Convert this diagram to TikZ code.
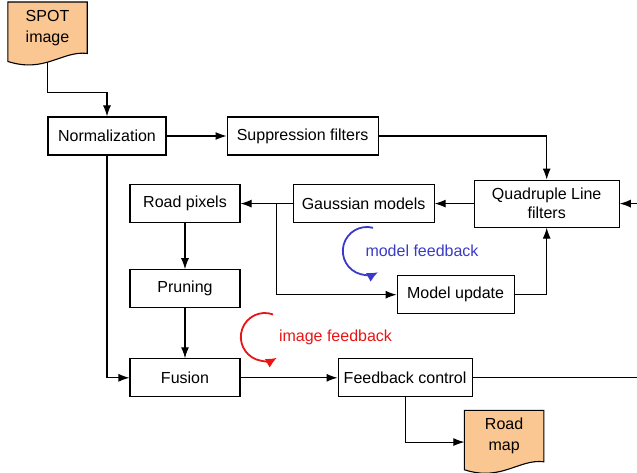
\documentclass[tikz,border=0pt]{standalone}
\usepackage{fontspec}
\setmainfont{Liberation Sans}
\usetikzlibrary{positioning,arrows.meta,backgrounds}

\definecolor{docorange}{RGB}{250,198,146}
\definecolor{fbblue}{RGB}{58,58,200}
\definecolor{fbred}{RGB}{235,20,20}

% wavy document outline behind a doc node
\newcommand{\docframe}[1]{%
	\begin{scope}[on background layer]
		\draw[docframe] (#1.north west) -- (#1.north east) -- (#1.south east)
			.. controls +(-25pt,3pt) and +(37pt,-12pt) .. ([yshift=-8pt]#1.south west) -- cycle;
	\end{scope}}

\begin{document}
\begin{tikzpicture}[font=\fontsize{16}{19}\selectfont,
						box/.style={draw,line width=1.1pt,minimum height=38pt,inner sep=0pt},
						doc/.style={minimum width=79pt,minimum height=51pt,inner sep=0pt,align=center,font=\fontsize{16}{21}\selectfont},
						docframe/.style={draw,line width=1.1pt,fill=docorange},
						flow/.style={line width=1.1pt,-{Latex[length=11pt,width=8pt]}},
						loopback/.style={line width=1.8pt,-{Latex[length=11pt,width=10pt]}}]
		\useasboundingbox (0,0) rectangle (637pt,-473pt);

		\node[box,minimum width=118pt]	(norm)	at (107pt,-136pt)	{Normalization};
		\node[box,minimum width=151pt,right=60pt of norm]	(supp)	{Suppression filters};
		\node[box,minimum width=145pt,minimum height=47pt,align=center,below right=24pt and 95pt of supp]	(quad)	{Quadruple Line\\filters};
		\node[box,minimum width=141pt,left=39pt of quad]	(gauss)	{Gaussian models};
		\node[box,minimum width=110pt,left=52pt of gauss]	(pix)	{Road pixels};
		\node[box,minimum width=110pt,below=46pt of pix]	(prun)	{Pruning};
		\node[box,minimum width=110pt,below=50pt of prun]	(fus)	{Fusion};
		\node[box,minimum width=134pt,right=97pt of fus]	(fbc)	{Feedback control};
		\node[box,minimum width=117pt,below=52pt of gauss,xshift=92pt]	(upd)	{Model update};

		\node[doc,above=63pt of norm,xshift=-59.5pt]	(spot)	{SPOT\\image};
		\node[doc,below=13pt of fbc,xshift=99pt]	(map)	{Road\\map};
		\docframe{spot}
		\docframe{map}

		\node[inner sep=0pt,text=fbblue]	(mfb)	at (422pt,-251pt)	{model feedback};
		\node[inner sep=0pt,text=fbred]	(ifb)	at (335.5pt,-337pt)	{image feedback};

		\coordinate (split)	at ([xshift=-16pt]gauss.west);
		\coordinate (back)	at ([xshift=180pt]fbc.east);

		\draw[flow] ([yshift=-9pt]spot.south) -- ++(0,-30pt) -| (norm.north);
		\draw[flow] (norm) -- (supp);
		\draw[flow] (supp.east) -| (quad.north);
		\draw[flow] (quad) -- (gauss);
		\draw[flow] (gauss) -- (pix);
		\draw[flow] (split) |- (upd.west);
		\draw[flow] (upd.east) -| (quad.south);
		\draw[flow] (pix) -- (prun);
		\draw[flow] (prun) -- (fus);
		\draw[flow] (norm.south) |- (fus.west);
		\draw[flow] (fus) -- (fbc);
		\draw[flow] (fbc.east) -- (back) |- (quad.east);
		\draw[flow] (fbc.south) |- ([yshift=-6pt]map.west);

		\draw[loopback,fbblue] ([shift={(75:24pt)},xshift=1.5pt]mfb.west) arc[start angle=75,end angle=298,radius=24pt];
		\draw[loopback,fbred] ([shift={(70:24pt)},xshift=-14pt]ifb.west) arc[start angle=70,end angle=300,radius=24pt];
	\end{tikzpicture}
\end{document}
